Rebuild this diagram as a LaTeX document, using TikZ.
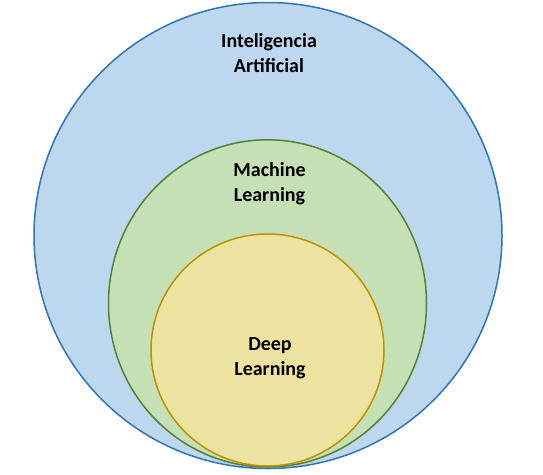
\documentclass[tikz,border=0pt]{standalone}
\usepackage{fontspec}
\setmainfont{Carlito}
\definecolor{outerfill}{RGB}{189,215,238}
\definecolor{outerdraw}{RGB}{46,117,182}
\definecolor{midfill}{RGB}{197,224,180}
\definecolor{middraw}{RGB}{84,130,53}
\definecolor{innerfill}{RGB}{237,227,160}
\definecolor{innerdraw}{RGB}{191,144,0}
\tikzset{
  circ/.style={line width=1.5pt},
  lbl/.style={anchor=base, inner sep=0pt, font=\fontsize{20}{24}\selectfont\bfseries, text=black}
}
\begin{document}
\begin{tikzpicture}[x=1pt,y=-1pt]
\useasboundingbox (0,0) rectangle (543,474);
\draw[circ, fill=outerfill, draw=outerdraw] (268,235.5) ellipse [x radius=234, y radius=233];
\draw[circ, fill=midfill, draw=middraw] (267.5,303.4) ellipse [x radius=159, y radius=163.6];
\draw[circ, fill=innerfill, draw=innerdraw] (267.5,350) ellipse [x radius=116.5, y radius=116];
\node[lbl] (ia1) at (269,47) {Inteligencia};
\node[lbl] (ia2) at (269,72) {Artificial};
\node[lbl] (ml1) at (269.5,176.7) {Machine};
\node[lbl] (ml2) at (269.5,201) {Learning};
\node[lbl] (dl1) at (270,350.7) {Deep};
\node[lbl] (dl2) at (270,375.7) {Learning};
\end{tikzpicture}
\end{document}
